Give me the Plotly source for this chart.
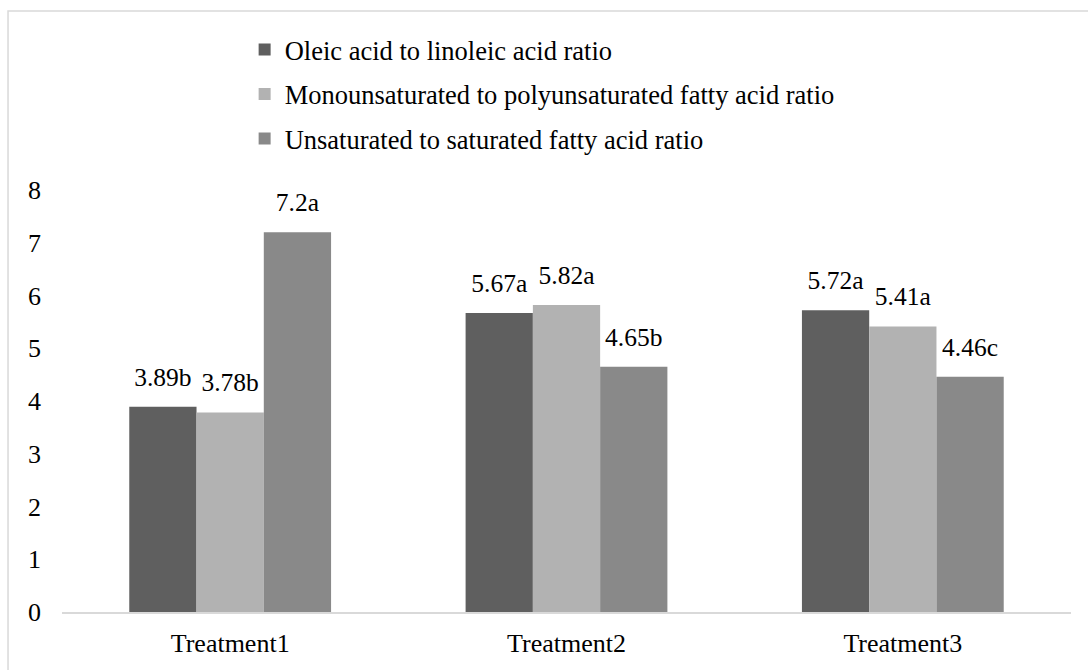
import plotly.graph_objects as go

categories = ["Treatment1", "Treatment2", "Treatment3"]
series_names = [
    "Oleic acid to linoleic acid ratio",
    "Monounsaturated to polyunsaturated fatty acid ratio",
    "Unsaturated to saturated fatty acid ratio",
]
oleic_linoleic = [3.89, 5.67, 5.72]
mono_poly = [3.78, 5.82, 5.41]
unsat_sat = [7.2, 4.65, 4.46]
oleic_letters = ["b", "a", "a"]
mono_letters = ["b", "a", "a"]
unsat_letters = ["a", "b", "c"]
colors = ["#5f5f5f", "#b2b2b2", "#898989"]
y_ticks = [0, 1, 2, 3, 4, 5, 6, 7, 8]

FONT = "'Liberation Serif', 'Times New Roman', 'DejaVu Serif', serif"

fig = go.Figure()
all_vals = [oleic_linoleic, mono_poly, unsat_sat]
all_letters = [oleic_letters, mono_letters, unsat_letters]
for i, (name, vals, col) in enumerate(zip(series_names, all_vals, colors)):
    fig.add_trace(go.Bar(
        x=categories, y=vals, name=name, marker=dict(color=col, line=dict(width=0)),
        offsetgroup=str(i), alignmentgroup="g", legendgroup=str(i),
        hoverinfo="skip",
    ))
for i, (vals, letters) in enumerate(zip(all_vals, all_letters)):
    fig.add_trace(go.Scatter(
        x=categories, y=vals, mode="markers+text",
        text=[f"{v:g}{l}" for v, l in zip(vals, letters)],
        textposition="top center",
        textfont=dict(family=FONT, size=25.5, color="#000000"),
        marker=dict(size=22, color="rgba(0,0,0,0)"),
        offsetgroup=str(i), alignmentgroup="g",
        showlegend=False, hoverinfo="skip", cliponaxis=False,
    ))

fig.update_layout(
    width=1088, height=670,
    barmode="group", scattermode="group",
    bargap=0.4, bargroupgap=0,
    plot_bgcolor="white", paper_bgcolor="white",
    margin=dict(l=62, r=17, t=190, b=58),
    font=dict(family=FONT, size=26, color="#000000"),
    showlegend=True,
    legend=dict(
        x=0.181, y=1.389, xanchor="left", yanchor="top",
        orientation="v", traceorder="grouped", tracegroupgap=7,
        font=dict(family=FONT, size=26.5, color="#000000"),
        bgcolor="rgba(0,0,0,0)",
    ),
    xaxis=dict(
        showline=True, linecolor="#d9d9d9", linewidth=1.5,
        showgrid=False, ticks="", tickfont=dict(family=FONT, size=26),
        ticklabelstandoff=7,
    ),
    yaxis=dict(
        range=[0, 8], tickvals=y_ticks, showgrid=False, zeroline=False,
        showline=False, ticks="", tickfont=dict(family=FONT, size=26),
        ticklabelstandoff=20,
    ),
    shapes=[dict(
        type="rect", xref="paper", yref="paper",
        x0=-0.0535, x1=1.2, y0=-0.5, y1=1.424,
        line=dict(color="#d9d9d9", width=1.5), fillcolor="rgba(0,0,0,0)",
        layer="below",
    )],
)

fig.write_html(
    "out.html",
    config={"displayModeBar": False},
    post_script="document.body.style.margin='0';document.body.style.overflow='hidden';",
)
